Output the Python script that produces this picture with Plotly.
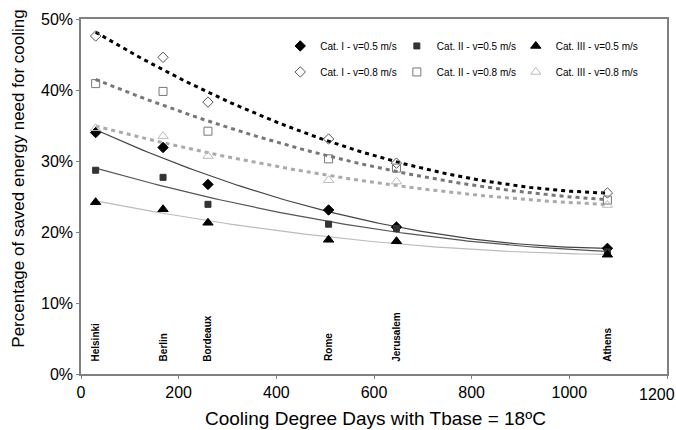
import numpy as np
import plotly.graph_objects as go

cities = ["Helsinki", "Berlin", "Bordeaux", "Rome", "Jerusalem", "Athens"]
cdd = [30, 168, 260, 507, 646, 1078]

cat1_v05 = [34.0, 31.9, 26.7, 23.1, 20.7, 17.7]
cat2_v05 = [28.7, 27.7, 23.9, 21.1, 20.5, 17.2]
cat3_v05 = [24.2, 23.2, 21.3, 18.9, 18.7, 16.8]
cat1_v08 = [47.6, 44.6, 38.3, 33.1, 29.7, 25.5]
cat2_v08 = [40.9, 39.8, 34.2, 30.3, 29.0, 24.5]
cat3_v08 = [34.6, 33.5, 30.7, 27.3, 27.1, 23.8]

names = ["Cat. I - v=0.5 m/s", "Cat. II - v=0.5 m/s", "Cat. III - v=0.5 m/s",
         "Cat. I - v=0.8 m/s", "Cat. II - v=0.8 m/s", "Cat. III - v=0.8 m/s"]
series = [cat1_v05, cat2_v05, cat3_v05, cat1_v08, cat2_v08, cat3_v08]

x_ticks = [0, 200, 400, 600, 800, 1000, 1200]

symbols = ["diamond", "square", "triangle-up", "diamond-open", "square-open", "triangle-up-open"]
msizes = [8, 6, 9, 8, 8, 9]
mcolors = ["#000000", "#333333", "#000000", "#555555", "#777777", "#bbbbbb"]
lcolors = ["#444444", "#555555", "#bbbbbb", "#000000", "#777777", "#aaaaaa"]
ldash = ["solid", "solid", "solid", "4px,4px", "4px,4px", "4px,4px"]
lwidth = [1.2, 1.2, 1.2, 3, 3, 3]
legend_ids = ["legend", "legend2", "legend3", "legend", "legend2", "legend3"]

fig = go.Figure()

# trend lines (2nd order polynomial fits of each series)
xs = np.linspace(min(cdd), max(cdd), 100)
for i, s in enumerate(series):
    c = np.polyfit(cdd, np.array(s) / 100, 2)
    fig.add_trace(go.Scatter(x=xs, y=np.polyval(c, xs), mode="lines",
                             line=dict(color=lcolors[i], width=lwidth[i], dash=ldash[i]),
                             showlegend=False, hoverinfo="skip"))

for i, s in enumerate(series):
    fig.add_trace(go.Scatter(x=cdd, y=np.array(s) / 100, mode="markers", name=names[i],
                             legend=legend_ids[i], legendgroup="g%d" % i,
                             marker=dict(symbol=symbols[i], size=msizes[i], color=mcolors[i],
                                         line=dict(width=1, color=mcolors[i]))))

for c, x in zip(cities, cdd):
    fig.add_annotation(x=x, y=0.015, text="<b>" + c + "</b>", textangle=-90, showarrow=False,
                       xanchor="center", yanchor="bottom", font=dict(size=10, color="#000"))

# last x tick label kept inside the figure (as in the original)
fig.add_annotation(x=x_ticks[-1], xref="x", y=0, yref="paper", text=str(x_ticks[-1]),
                   showarrow=False, xanchor="right", yanchor="top", xshift=10, yshift=-10,
                   font=dict(size=16, color="#000"))

# axis titles
fig.add_annotation(x=0.503, xref="paper", y=-0.125, yref="paper",
                   text="Cooling Degree Days with Tbase = 18ºC", showarrow=False,
                   xanchor="center", yanchor="middle", font=dict(size=19, color="#000"))
fig.add_annotation(x=-0.107, xref="paper", y=0.551, yref="paper",
                   text="Percentage of saved energy need for cooling", showarrow=False,
                   textangle=-90, xanchor="center", yanchor="middle",
                   font=dict(size=17, color="#000"))

leg_common = dict(orientation="v", y=0.965, xanchor="left", yanchor="top",
                  font=dict(size=10), bgcolor="rgba(0,0,0,0)",
                  itemwidth=30, tracegroupgap=7)

fig.update_layout(
    width=676, height=430,
    margin=dict(l=81, r=9, t=19, b=56),
    paper_bgcolor="white", plot_bgcolor="white",
    font=dict(family="Liberation Sans, Arial", color="#000"),
    showlegend=True,
    legend=dict(x=0.340, **leg_common),
    legend2=dict(x=0.539, **leg_common),
    legend3=dict(x=0.742, **leg_common),
    xaxis=dict(range=[0, 1200], tickvals=x_ticks,
               ticktext=[str(v) for v in x_ticks[:-1]] + [""],
               showgrid=False, zeroline=False,
               showline=True, linecolor="#808080", linewidth=1.5, mirror=True,
               ticks="outside", ticklen=3, tickcolor="#808080",
               tickfont=dict(size=16), automargin=False),
    yaxis=dict(range=[0, 0.5], dtick=0.1, tickformat=".0%", showgrid=False, zeroline=False,
               showline=True, linecolor="#808080", linewidth=1.5, mirror=True,
               ticks="outside", ticklen=3, tickcolor="#808080",
               tickfont=dict(size=16), automargin=False),
)

fig.write_html("out.html")
